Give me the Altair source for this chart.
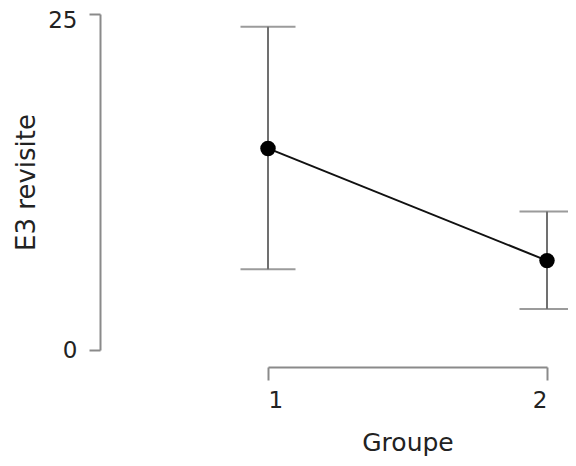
import altair as alt
import pandas as pd

groups = [1, 2]
means = [15.0, 6.65]
upper = [24.05, 10.3]
lower = [6.0, 3.05]

df = pd.DataFrame({"Groupe": groups, "mean": means, "upper": upper, "lower": lower})

FONT = "DejaVu Sans"

x_enc = alt.X(
    "Groupe:Q",
    scale=alt.Scale(domain=[1, 2], nice=False, zero=False),
    axis=alt.Axis(
        values=[1, 2], format="d", title="Groupe", offset=17, grid=False,
        domainColor="#8a8a8a", domainWidth=2, tickColor="#8a8a8a", tickWidth=2,
        tickSize=13, labelPadding=9, labelFontSize=23, labelFont=FONT,
        labelColor="#222222", titleFontSize=25, titleFont=FONT,
        titleFontWeight="normal", titleColor="#222222", titlePadding=18,
    ),
)
y_scale = alt.Scale(domain=[0, 25], nice=False, zero=False)
y_axis = alt.Axis(
    values=[0, 25], title="E3 revisite", offset=168, grid=False,
    domainColor="#8a8a8a", domainWidth=2, tickColor="#8a8a8a", tickWidth=2,
    tickSize=11, labelPadding=12, labelFontSize=23, labelFont=FONT,
    labelOffset={"condition": {"test": "datum.value == 25", "value": 6}, "value": 0},
    labelColor="#222222", titleFontSize=26, titleFont=FONT,
    titleFontWeight="normal", titleColor="#222222", titlePadding=8,
)

base = alt.Chart(df)

bars = base.mark_rule(color="#707070", strokeWidth=2).encode(
    x=x_enc,
    y=alt.Y("lower:Q", scale=y_scale, axis=y_axis),
    y2="upper:Q",
)
cap_top = base.mark_tick(color="#707070", thickness=2, size=55, orient="horizontal").encode(
    x="Groupe:Q", y=alt.Y("upper:Q", scale=y_scale)
)
cap_bot = base.mark_tick(color="#707070", thickness=2, size=55, orient="horizontal").encode(
    x="Groupe:Q", y=alt.Y("lower:Q", scale=y_scale)
)
line = base.mark_line(color="#111111", strokeWidth=2).encode(
    x="Groupe:Q", y=alt.Y("mean:Q", scale=y_scale)
)
pts = base.mark_circle(color="#000000", size=240, opacity=1).encode(
    x="Groupe:Q", y=alt.Y("mean:Q", scale=y_scale)
)

chart = alt.layer(bars, cap_top, cap_bot, line, pts).properties(
    width=279, height=336,
    autosize=alt.AutoSizeParams(type="none"),
    padding={"left": 260, "top": 6, "right": 21, "bottom": 108},
).configure(
    background="white",
    view=alt.ViewConfig(stroke="transparent", strokeWidth=0),
)

chart.save("out.html", embed_options={"renderer": "svg", "actions": False})
